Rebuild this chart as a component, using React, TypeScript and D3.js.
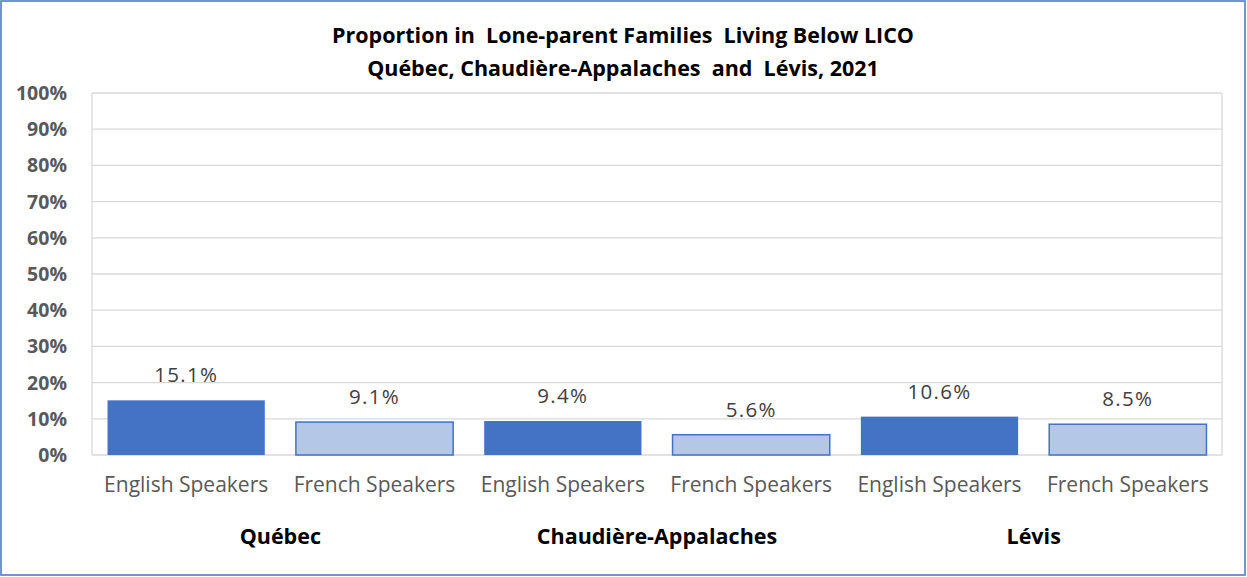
import React from "react";
import * as d3 from "d3";

const groups = ["Québec", "Chaudière-Appalaches", "Lévis"];
const speakers = ["English Speakers", "French Speakers"];
const values = [
  [15.1, 9.1],
  [9.4, 5.6],
  [10.6, 8.5],
];
const yTicks = [0, 10, 20, 30, 40, 50, 60, 70, 80, 90, 100];
const titleLines = [
  "Proportion in  Lone-parent Families  Living Below LICO",
  "Québec, Chaudière-Appalaches  and  Lévis, 2021",
];

const W = 1247;
const H = 577;
const FONT = "'Open Sans', sans-serif";

export default function App() {
  const left = 92, right = 1222, top = 93, bottom = 455;
  const flat = groups.flatMap((g, gi) =>
    speakers.map((s, si) => ({ key: `${gi}-${si}`, g, gi, s, si, v: values[gi][si] }))
  );
  const x = d3.scaleBand<string>().domain(flat.map((d) => d.key)).range([left, right]).paddingInner(0.165).paddingOuter(0.0825);
  const y = d3.scaleLinear().domain([0, 100]).range([bottom, top]);
  const slot = (right - left) / flat.length;

  return (
    <svg width={W} height={H} style={{ position: "absolute", left: 0, top: 0 }}>
      <rect x={0} y={0} width={W} height={H} fill="#fff" />
      <rect x={1} y={1} width={W - 3} height={H - 3} fill="none" stroke="#4472C4" strokeWidth={1.5} />
      {titleLines.map((t, i) => (
        <text key={i} x={623} y={43 + i * 33} textAnchor="middle" fontFamily={FONT} fontWeight="bold" fontSize={21.5} fill="#000" style={{ whiteSpace: "pre" }}>
          {t}
        </text>
      ))}
      {yTicks.map((t) => (
        <g key={t}>
          <line x1={left} x2={right} y1={y(t)} y2={y(t)} stroke="#d9d9d9" strokeWidth={1.3} />
          <text x={67} y={y(t) + 7} textAnchor="end" fontFamily={FONT} fontWeight="bold" fontSize={19.5} fill="#595959">
            {t}%
          </text>
        </g>
      ))}
      <line x1={left} x2={left} y1={top} y2={bottom} stroke="#d9d9d9" strokeWidth={1.3} />
      <line x1={right} x2={right} y1={top} y2={bottom} stroke="#d9d9d9" strokeWidth={1.3} />
      {flat.map((d) => {
        const bx = x(d.key)!;
        const bw = x.bandwidth();
        const cx = bx + bw / 2;
        return (
          <g key={d.key}>
            <rect
              x={bx}
              y={y(d.v)}
              width={bw}
              height={y(0) - y(d.v)}
              fill={d.si === 0 ? "#4472C4" : "#B4C7E7"}
              stroke="#4472C4"
              strokeWidth={d.si === 0 ? 0 : 1.5}
            />
            <text x={cx} y={y(d.v) - 18} textAnchor="middle" fontFamily={FONT} fontSize={20.5} letterSpacing={1.3} fill="#404040">
              {d.v.toFixed(1)}%
            </text>
            <text x={left + slot * (d.gi * 2 + d.si) + slot / 2} y={492} textAnchor="middle" fontFamily={FONT} fontSize={21} fill="#595959">
              {d.s}
            </text>
          </g>
        );
      })}
      {groups.map((g, gi) => (
        <text key={g} x={left + slot * (gi * 2 + 1)} y={544} textAnchor="middle" fontFamily={FONT} fontWeight="bold" fontSize={21.5} fill="#000">
          {g}
        </text>
      ))}
    </svg>
  );
}
